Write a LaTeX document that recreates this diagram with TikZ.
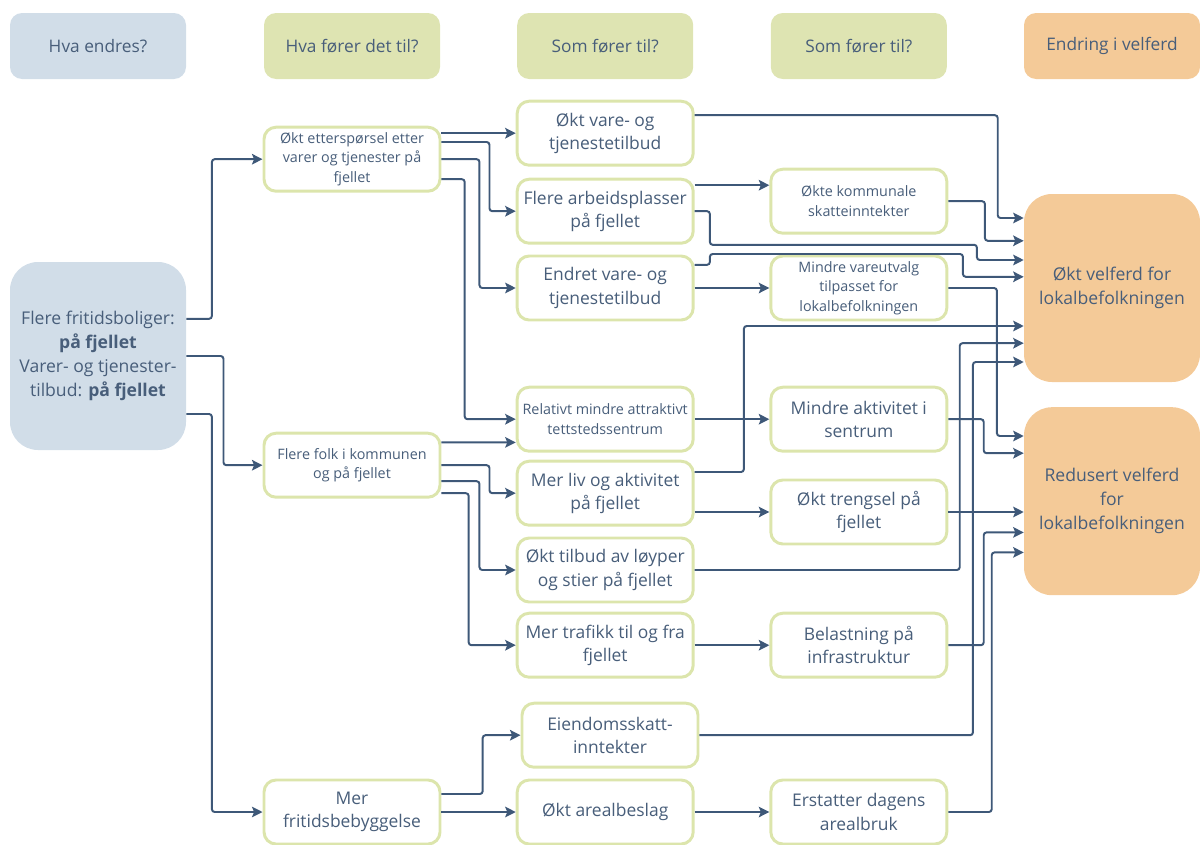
\documentclass[tikz,border=0pt]{standalone}
\usepackage{fontspec}
\setmainfont{Open Sans}
\usepackage{xcolor}
\usepackage{tikz}
\usetikzlibrary{positioning,arrows.meta,calc}

\definecolor{txtblue}{RGB}{72,94,122}
\definecolor{lineblue}{RGB}{62,88,120}
\definecolor{headblue}{RGB}{209,221,232}
\definecolor{headgreen}{RGB}{222,228,178}
\definecolor{boxgreen}{RGB}{220,229,172}
\definecolor{welforange}{RGB}{244,202,152}

\begin{document}
\begin{tikzpicture}[
    head/.style={rectangle, rounded corners=0.3cm, minimum width=4.4cm, minimum height=1.65cm, align=center, text=txtblue, font=\fontsize{12.3}{16.5}\selectfont},
    effect/.style={draw=boxgreen, line width=2.1pt, fill=white, rectangle, rounded corners=0.3cm, minimum width=4.4cm, minimum height=1.6cm, align=center, text=txtblue, font=\fontsize{12.4}{16.6}\selectfont, inner sep=2pt},
    smalltext/.style={font=\fontsize{10.2}{13.8}\selectfont},
    big/.style={rectangle, rounded corners=0.7cm, minimum width=4.4cm, minimum height=4.7cm, align=center, text=txtblue, font=\fontsize{12.5}{17}\selectfont},
    link/.style={-{Stealth[length=7.5pt,width=7.5pt,inset=1.5pt]}, draw=lineblue, line width=1.4pt, rounded corners=2pt}
]
\useasboundingbox (0,0) rectangle (30,-21.1);

% Column headings
\node[head, fill=headblue] (H1) at (2.45,-1.15) {Hva endres?};
\node[head, fill=headgreen] (H2) at (8.8,-1.15) {Hva fører det til?};
\node[head, fill=headgreen] (H3) at (15.13,-1.15) {Som fører til?};
\node[head, fill=headgreen] (H4) at (21.47,-1.15) {Som fører til?};
\node[head, fill=welforange] (H5) at (27.8,-1.15) {Endring i velferd};

% Starting point
\node[big, fill=headblue] (L) at (2.45,-8.9) {Flere fritidsboliger:\\\textbf{på fjellet}\\Varer- og tjenester-\\tilbud: \textbf{på fjellet}};

% First effects
\node[effect, smalltext] (A1) at (8.8,-3.98) {Økt etterspørsel etter\\varer og tjenester på\\fjellet};
\node[effect, smalltext] (A2) at (8.8,-11.63) {Flere folk i kommunen\\og på fjellet};
\node[effect] (A3) at (8.8,-20.3) {Mer\\fritidsbebyggelse};

% Second effects
\node[effect] (B1) at (15.13,-3.33) {Økt vare- og\\tjenestetilbud};
\node[effect] (B2) at (15.13,-5.28) {Flere arbeidsplasser\\på fjellet};
\node[effect] (B3) at (15.13,-7.2) {Endret vare- og\\tjenestetilbud};
\node[effect, smalltext] (B4) at (15.13,-10.48) {Relativt mindre attraktivt\\tettstedssentrum};
\node[effect] (B5) at (15.13,-12.33) {Mer liv og aktivitet\\på fjellet};
\node[effect] (B6) at (15.13,-14.25) {Økt tilbud av løyper\\og stier på fjellet};
\node[effect] (B7) at (15.13,-16.13) {Mer trafikk til og fra\\fjellet};
\node[effect] (B8) at (15.25,-18.38) {Eiendomsskatt-\\inntekter};
\node[effect] (B9) at (15.13,-20.3) {Økt arealbeslag};

% Third effects
\node[effect, smalltext] (C1) at (21.47,-5.03) {Økte kommunale\\skatteinntekter};
\node[effect, smalltext] (C2) at (21.47,-7.2) {Mindre vareutvalg\\tilpasset for\\lokalbefolkningen};
\node[effect] (C3) at (21.47,-10.48) {Mindre aktivitet i\\sentrum};
\node[effect] (C4) at (21.47,-12.8) {Økt trengsel på\\fjellet};
\node[effect] (C5) at (21.47,-16.13) {Belastning på\\infrastruktur};
\node[effect] (C6) at (21.47,-20.3) {Erstatter dagens\\arealbruk};

% Welfare
\node[big, fill=welforange] (D1) at (27.8,-7.2) {Økt velferd for\\lokalbefolkningen};
\node[big, fill=welforange] (D2) at (27.8,-12.53) {Redusert velferd\\for\\lokalbefolkningen};

% From the starting point
\draw[link] ($(L.east)+(0,0.93)$) -- ++(0.64,0) |- (A1.west);
\draw[link] (L.east) -- ++(0.93,0) |- (A2.west);
\draw[link] ($(L.east)+(0,-1.45)$) -- ++(0.64,0) |- (A3.west);

% Demand for goods and services
\draw[link] (A1.east |- B1.west) -- (B1.west);
\draw[link] ($(A1.east)+(0,0.43)$) -- ++(1.2,0) |- (B2.west);
\draw[link] (A1.east) -- ++(0.95,0) |- (B3.west);
\draw[link] ($(A1.east)+(0,-0.5)$) -- ++(0.58,0) |- (B4.west);

% More people
\draw[link] ($(A2.east)+(0,0.57)$) -- ($(B4.west)+(0,-0.58)$);
\draw[link] (A2.east) -- ++(1.2,0) |- (B5.west);
\draw[link] ($(A2.east)+(0,-0.4)$) -- ++(0.95,0) |- (B6.west);
\draw[link] ($(A2.east)+(0,-0.7)$) -- ++(0.68,0) |- (B7.west);

% Holiday homes
\draw[link] ($(A3.east)+(0,0.45)$) -- ++(1.03,0) |- (B8.west);
\draw[link] (A3.east) -- (B9.west);

% Second to third
\draw[link] ($(B2.east)+(0,0.65)$) -- ($(C1.west)+(0,0.4)$);
\draw[link] (B3.east) -- (C2.west);
\draw[link] (B4.east) -- (C3.west);
\draw[link] (B5.east |- C4.west) -- (C4.west);
\draw[link] (B7.east) -- (C5.west);
\draw[link] (B9.east) -- (C6.west);

% Into higher welfare
\draw[link] ($(B1.east)+(0,0.45)$) -| ($(D1.west)+(-0.65,1.75)$) -- ($(D1.west)+(0,1.75)$);
\draw[link] (C1.east) -| ($(D1.west)+(-0.97,1.18)$) -- ($(D1.west)+(0,1.18)$);
\draw[link] (B2.east) -- ++(0.38,0) |- ($(D1.west)+(-1.17,1.08)$) |- ($(D1.west)+(0,0.7)$);
\draw[link] ($(B3.east)+(0,0.58)$) -- ++(0.38,0) |- ($(D1.west)+(-1.52,0.85)$) |- ($(D1.west)+(0,0.28)$);
\draw[link] ($(B5.east)+(0,0.53)$) -- ++(1.23,0) |- ($(D1.west)+(0,-0.95)$);
\draw[link] (B6.east) -| ($(D1.west)+(-1.6,-1.38)$) -- ($(D1.west)+(0,-1.38)$);
\draw[link] (B8.east) -| ($(D1.west)+(-1.27,-1.85)$) -- ($(D1.west)+(0,-1.85)$);

% Into reduced welfare
\draw[link] (C2.east) -| ($(D2.west)+(-0.67,1.63)$) -- ($(D2.west)+(0,1.63)$);
\draw[link] (C3.east) -| ($(D2.west)+(-1,1.2)$) -- ($(D2.west)+(0,1.2)$);
\draw[link] (C4.east) -- (C4.east -| D2.west);
\draw[link] (C5.east) -| ($(D2.west)+(-1,-0.78)$) -- ($(D2.west)+(0,-0.78)$);
\draw[link] (C6.east) -| ($(D2.west)+(-0.8,-1.28)$) -- ($(D2.west)+(0,-1.28)$);

\end{tikzpicture}
\end{document}
